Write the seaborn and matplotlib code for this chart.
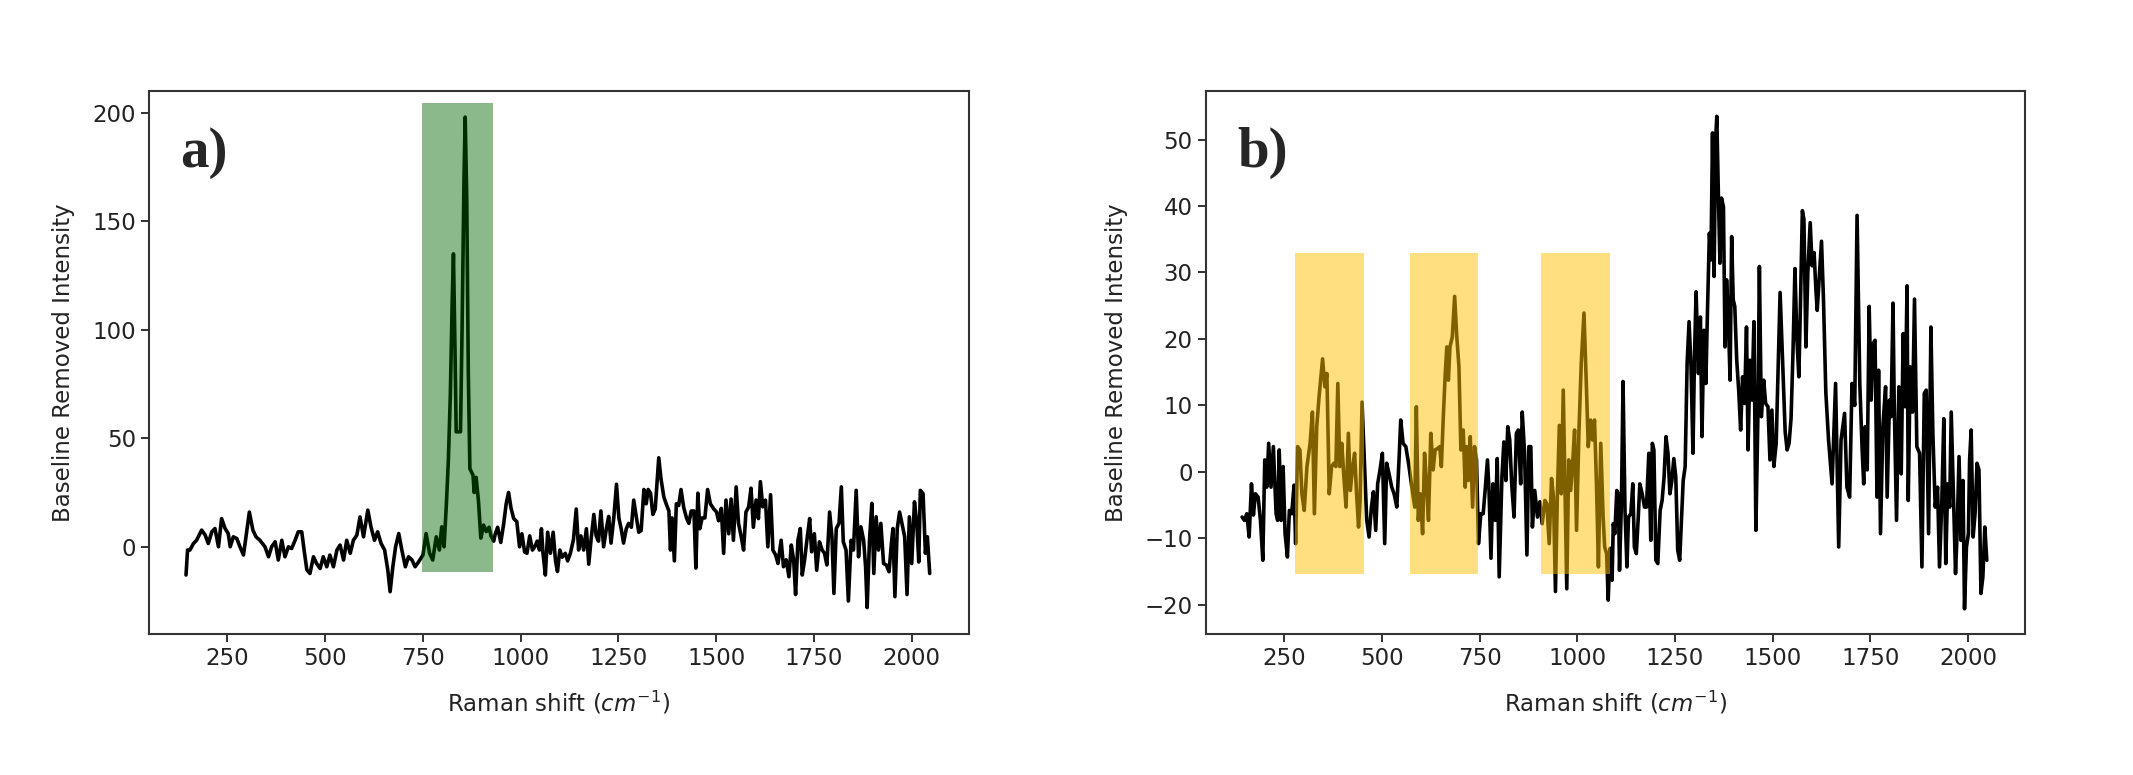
import matplotlib
matplotlib.use("Agg")
import matplotlib.pyplot as plt
import seaborn as sns
import pandas as pd

# spectrum a) - Raman shift (cm-1) / baseline removed intensity
shift_a = [144, 148, 154, 163, 171, 184, 193, 201, 210, 218, 227, 235, 244, 252, 257, 265, 274, 282,
           291, 299, 306, 315, 323, 333, 346, 355, 363, 372, 380, 389, 397, 406, 414, 423, 431, 440,
           446, 453, 461, 470, 478, 487, 495, 504, 512, 521, 530, 538, 547, 555, 564, 572, 581, 589,
           598, 609, 617, 626, 634, 643, 652, 660, 666, 673, 680, 688, 696, 705, 713, 722, 730, 739,
           750, 758, 767, 775, 784, 792, 798, 804, 810, 815, 820, 825, 828, 832, 835, 840, 846, 850,
           855, 858, 862, 866, 870, 878, 881, 886, 892, 898, 905, 912, 919, 924, 931, 935, 941, 949,
           956, 963, 969, 975, 982, 990, 997, 1003, 1010, 1016, 1023, 1030, 1036, 1042, 1048, 1053,
           1057, 1063, 1069, 1076, 1083, 1089, 1094, 1100, 1106, 1114, 1120, 1127, 1135, 1142, 1148,
           1154, 1161, 1168, 1174, 1180, 1187, 1193, 1199, 1205, 1212, 1219, 1225, 1231, 1238, 1245,
           1251, 1257, 1263, 1270, 1276, 1283, 1289, 1296, 1302, 1308, 1315, 1321, 1326, 1332, 1338,
           1344, 1353, 1359, 1366, 1372, 1379, 1383, 1387, 1393, 1398, 1404, 1410, 1417, 1424, 1430,
           1436, 1443, 1448, 1453, 1458, 1464, 1471, 1478, 1485, 1494, 1501, 1506, 1513, 1519, 1525,
           1532, 1538, 1544, 1551, 1557, 1564, 1570, 1576, 1583, 1589, 1595, 1602, 1608, 1613, 1619,
           1626, 1632, 1639, 1645, 1652, 1658, 1666, 1672, 1679, 1686, 1692, 1698, 1703, 1709, 1715,
           1720, 1726, 1733, 1739, 1744, 1751, 1757, 1764, 1771, 1777, 1783, 1790, 1796, 1801, 1807,
           1814, 1820, 1825, 1832, 1838, 1845, 1851, 1858, 1864, 1870, 1877, 1882, 1886, 1892, 1898,
           1903, 1909, 1915, 1921, 1928, 1935, 1942, 1948, 1952, 1957, 1963, 1969, 1975, 1982, 1988,
           1994, 2000, 2007, 2013, 2018, 2022, 2029, 2035, 2040, 2046]
intensity_a = [-13, -1.5, -1.5, 1.5, 3, 7.7, 5.4, 1.5, 6.9, 8.4, 0, 13, 8.4, 6.1, 0, 4.6, 3.8, 0,
               -3.8, 6.9, 16, 7.7, 4.6, 3, 0, -4.6, 0, 2.3, -6.1, 3, -4.6, 0, -0.8, 3, 6.9, 6.9,
               -1.5, -10.6, -12.3, -4.6, -7.7, -10, -4.6, -9.2, -3.8, -9.2, -1.5, 0.8, -6.1, 3, -3, 3, 5.4, 13.8,
               4.6, 16.9, 9.2, 3, 6.9, 1.5, -1.5, -10.6, -20.7, -9.2, 0, 6.1, -1.5, -9.2, -4.6, -6.1, -9.2, -6.9,
               -3.8, 6.1, -3, -6.1, 4.6, -1.5, 9.2, 0, 20, 40, 70, 115, 135, 90, 53, 53, 53, 100,
               170, 198, 160, 80, 36, 33, 25, 32, 21, 4, 10, 7, 9, 5, 2.6, 6, 9, 2,
               10, 20, 25, 18, 13, 11.6, 0, 6, -2.4, -3, 5, -1.5, 0, 2.6, -1.5, 8.3,
               -3, -13, 6.7, -3, 6.7, -6.5, -11.4, -1.5, -4.8, -3, -6.5, -3, 3.4, 17.4, -1.5,
               5, -1.5, 8.3, -8, 3.4, 14.9, 5, 2.6, 16.5, 0, 8.3, 14, 1.7, 13.3, 28.8,
               13.3, 8.3, 1.7, 8.3, 10.8, 9, 21.5, 13.3, 6.7, 7.5, 26.4, 19.8, 26.4, 24.7, 14.9,
               17.4, 41, 31, 23, 19.8, 16.5, -1.5, 13.3, -6.5, 19.8, 19, 26.4, 18, 13.3, 10.8,
               16.5, 16.5, -9.8, 24.7, 8.3, 13.3, 13.3, 26.4, 19.8, 17.4, 16, 12, 17.7, -3, 21.5,
               6, 22, 3, 27.6, 10.8, 4.6, -1.5, 16, 18.4, 27, 9, 21.5, 13, 30, 18.4,
               21.5, 0, 24, -1.5, -3.8, -7.7, 3, -9.2, -6, -13.8, 0.8, -6, -22, 3, 8.4,
               -13, -6, 4.6, 13, -2.3, 6, -10.8, 2.3, -1.5, -3, -8.4, 16, 4.6, -21.5, 8.4,
               10.8, 27.6, 2.3, -1.5, -25, 3, -1.5, 26, -4.6, 9.2, 3, -9.2, -28, 3, 20,
               -12.3, 13.8, -1.5, 10.8, -7.7, -8.4, -11.5, 1.5, 8.4, -23, 8.4, 16, 10.8, 4.6, -22,
               13.8, -7.7, 20.7, 10.8, -7, 26, 24.5, -3, 4.6, -12.3]

# spectrum b)
shift_b = [142, 148, 154, 160, 166, 171, 176, 183, 189, 195, 200, 205, 210, 216, 222, 229, 233, 237,
           242, 247, 252, 258, 263, 269, 275, 279, 284, 290, 295, 301, 308, 316, 322, 327, 333, 339,
           348, 354, 359, 365, 371, 377, 382, 387, 392, 397, 402, 408, 414, 419, 425, 430, 435, 440,
           444, 449, 455, 461, 467, 473, 478, 484, 489, 495, 501, 507, 512, 518, 525, 531, 538, 544,
           548, 554, 561, 568, 574, 580, 584, 588, 593, 598, 604, 609, 614, 619, 625, 631, 636, 642,
           648, 652, 657, 662, 666, 670, 674, 680, 686, 691, 697, 702, 708, 713, 717, 721, 726, 732,
           737, 742, 747, 753, 759, 764, 770, 774, 779, 784, 790, 795, 800, 807, 812, 817, 822, 827,
           832, 838, 844, 849, 855, 859, 865, 871, 876, 881, 885, 891, 898, 904, 910, 917, 922, 928,
           934, 939, 944, 949, 954, 959, 964, 969, 973, 978, 983, 988, 993, 998, 1004, 1010, 1017, 1023,
           1028, 1034, 1039, 1044, 1049, 1054, 1060, 1066, 1070, 1075, 1079, 1084, 1089, 1092, 1096,
           1101, 1105, 1108, 1113, 1117, 1122, 1127, 1131, 1137, 1142, 1146, 1151, 1156, 1160, 1166,
           1172, 1177, 1183, 1188, 1192, 1196, 1201, 1206, 1212, 1217, 1222, 1227, 1232, 1237, 1242,
           1247, 1252, 1257, 1262, 1267, 1271, 1276, 1281, 1286, 1291, 1296, 1300, 1304, 1310, 1315,
           1319, 1324, 1329, 1333, 1338, 1342, 1346, 1350, 1354, 1357, 1361, 1365, 1369, 1374, 1378,
           1382, 1386, 1391, 1395, 1399, 1403, 1408, 1413, 1418, 1423, 1428, 1433, 1437, 1442, 1447,
           1452, 1457, 1462, 1466, 1471, 1477, 1482, 1488, 1493, 1498, 1503, 1509, 1519, 1527, 1532,
           1537, 1542, 1547, 1552, 1557, 1562, 1567, 1571, 1576, 1580, 1585, 1590, 1596, 1601, 1606,
           1611, 1614, 1620, 1625, 1630, 1636, 1643, 1652, 1661, 1669, 1675, 1684, 1690, 1697, 1703,
           1710, 1716, 1723, 1729, 1733, 1737, 1742, 1747, 1752, 1757, 1762, 1767, 1771, 1776, 1782,
           1789, 1793, 1799, 1803, 1808, 1811, 1817, 1823, 1829, 1834, 1839, 1844, 1847, 1852, 1858,
           1863, 1869, 1876, 1882, 1888, 1893, 1899, 1905, 1910, 1916, 1922, 1927, 1933, 1938, 1943,
           1948, 1953, 1957, 1963, 1968, 1972, 1977, 1982, 1987, 1991, 1996, 2001, 2004, 2008, 2013,
           2018, 2023, 2028, 2033, 2038, 2043, 2048]
intensity_b = [-6.8, -7.3, -6.3, -9.8, -1.8, -6.5, -3.3, -3.8, -7.3, -13.3, 1.8, -2.3, 4.3, -2.3, 3.8, -6.3, -7.3, 3.3,
               -7.3, 0.8, -9.3, -12.8, -5.8, -6.3, -2, -10.8, 3.8, 3.3, -3.3, -5.8, 0.8, 4.3, 9, -6.3, 6.8, 11.3,
               17, 12.8, 14.8, -3.3, 0.8, 1.3, 0.8, 13.3, 0.8, 4.3, -0.3, -5.3, 5.8, -2.8, 0.8, 2.8, -3.3, -8.3,
               -4.3, 10.5, 1.8, -7.3, -9.8, -5.3, -3, -8.8, -1.8, 0.3, 2.8, -10.8, 1.3, -0.3, -2.3, -3.3, -5.3, 2.3,
               7.8, 4.3, 3.8, 1.3, -1.3, -3.8, -5.3, 9.8, -7.3, -3.3, -9.3, 2.8, -1.8, -7.3, 5.8, 0.3, 3.3, 3.5,
               3.8, 0.8, 8.3, 14.8, 18.8, 13.8, 18.8, 20.3, 26.4, 20.8, 15.8, 3.3, 6.3, -2.3, 3.8, -1.3, 5.3, -5.3,
               3.8, 1.8, -10.8, -6.3, -6.3, -2.8, 1.8, -2.8, -13, -1.8, -7.3, 2, -15.8, -0.8, 4.5, -1.3, 6.8, 4.8,
               -1.8, -6.8, 5.8, 6.3, -1.8, 9, 2.8, -12.5, 3.8, 3.8, -8.3, -2.8, -6.8, -4.5, -7.8, -4.3, -4.8, -10.8,
               -1, -3.8, -18, -3.3, 7, -3.3, 12.3, -4.3, -17.6, 1.8, -2.8, 1.3, 6.3, -8.8, 5.8, 16.3, 23.9, 13.3,
               3.8, 7.8, 4.8, 7.8, -1.8, -14.3, 4.3, -6.8, -11.3, -12.3, -19.3, -11.5, -16.3, -7.8, -9.3,
               -2.8, -3.3, -14.8, -4.3, 13.6, -5.8, -14.3, -6.8, -6.3, -1.8, -11.3, -12.3, -6.8, -1.8, -3.3,
               -5.3, -5.3, 2.8, -10.3, 4.3, 3.3, -13.3, -13.8, -5.8, -4.3, -0.8, 5.3, 2.8, -3.3, -1.3,
               2, -0.8, -11.8, -13.3, -6.8, -1.3, 0.8, 16.3, 22.6, 15.8, 2.8, 17.8, 27.1, 14.8, 23.3,
               5.3, 21.3, 13.3, 23.9, 35.9, 31.9, 51, 29.4, 50, 53.5, 41.9, 31.4, 41.2, 39.9, 18.8,
               28.9, 23.9, 13.8, 35.4, 25.9, 24.9, 16.8, 12.3, 6.3, 14.3, 10.3, 21.8, 3.3, 16.8, 10.8,
               22.6, -8.8, 7.8, 30.9, 8.3, 13.8, 10.3, 9.8, 1.8, 9.3, 0.8, 4.3, 27, 14, 6,
               3.3, 4.3, 8, 18, 30.6, 20, 14.3, 25, 39.3, 38, 18.8, 30, 37.5, 31, 33,
               27, 24.3, 30, 34.7, 26, 12, 4.8, -1.8, 13.3, -11.3, 4.8, 8.8, -2.3, -3.8, 13.3,
               10, 38.6, 13.3, 3.3, -1.8, 6.8, 0.3, 24.9, 10.8, 19.3, 19.8, -3.8, 15.3, -9.3, 6.8,
               12.8, -3.8, 10.8, 8.3, 25.4, 10.8, -7.3, 12.8, -0.3, 20.8, 9.8, 28, -4.3, 15.8, 9,
               26, 3.8, 2.8, -14.3, 11.8, 12.3, -9.3, 21.8, 5.8, -5.3, -2.3, -14.3, -4.3, 8, -13.8,
               -1.8, -5.3, 9, -4.3, -15.3, -9.3, 2.3, -10.3, -1.3, -20.6, -11.3, -9.3, 1.8, 6.3, -9.8,
               -6.3, 1.3, 0.3, -18.3, -15.8, -8.3, -13.3]

# highlighted bands (start, end) and their vertical extent
bands_a = [(748, 929)]
band_y_a = (-11.8, 204.7)
bands_b = [(278, 455), (571, 747), (906, 1083)]
band_y_b = (-15.3, 33)

panels = [
    dict(x=shift_a, y=intensity_a, bands=bands_a, band_y=band_y_a, color="darkgreen", alpha=0.45,
         ylim=(-40.2, 210), yticks=[0, 50, 100, 150, 200], tag="a)"),
    dict(x=shift_b, y=intensity_b, bands=bands_b, band_y=band_y_b, color="#FFC000", alpha=0.5,
         ylim=(-24.4, 57.3), yticks=[-20, -10, 0, 10, 20, 30, 40, 50], tag="b)"),
]

sns.set_style("ticks")
plt.rcParams["font.family"] = ["DejaVu Sans"]
plt.rcParams["mathtext.fontset"] = "dejavusans"

fig = plt.figure(figsize=(21.33, 7.75), dpi=100)
boxes = [[0.0699, 0.1819, 0.3843, 0.7006], [0.5654, 0.1819, 0.3840, 0.7006]]

for box, p in zip(boxes, panels):
    ax = fig.add_axes(box)
    df = pd.DataFrame({"shift": p["x"], "intensity": p["y"]})
    sns.lineplot(data=df, x="shift", y="intensity", ax=ax, color="black", lw=2.6,
                 estimator=None, sort=False, zorder=2)
    for x0, x1 in p["bands"]:
        ax.fill_between([x0, x1], p["band_y"][0], p["band_y"][1], color=p["color"],
                        alpha=p["alpha"], lw=0, zorder=3)
    ax.set_xlim(49.6, 2146)
    ax.set_ylim(*p["ylim"])
    ax.set_xticks([250, 500, 750, 1000, 1250, 1500, 1750, 2000])
    ax.set_yticks(p["yticks"])
    ax.set_xlabel("Raman shift ($cm^{-1}$)", fontsize=16.5, color="#222222", labelpad=14)
    ax.set_ylabel("Baseline Removed Intensity", fontsize=16.5, color="#222222", labelpad=12)
    ax.tick_params(labelsize=16.5, length=6, width=1.3, colors="#222222")
    for s in ax.spines.values():
        s.set_linewidth(1.5)
        s.set_color("#333333")
    ax.text(0.038, 0.861, p["tag"], transform=ax.transAxes, ha="left", va="baseline",
            fontsize=41, fontweight="bold", family=["Liberation Serif", "DejaVu Serif"])

fig.savefig("out.png", dpi=100)
